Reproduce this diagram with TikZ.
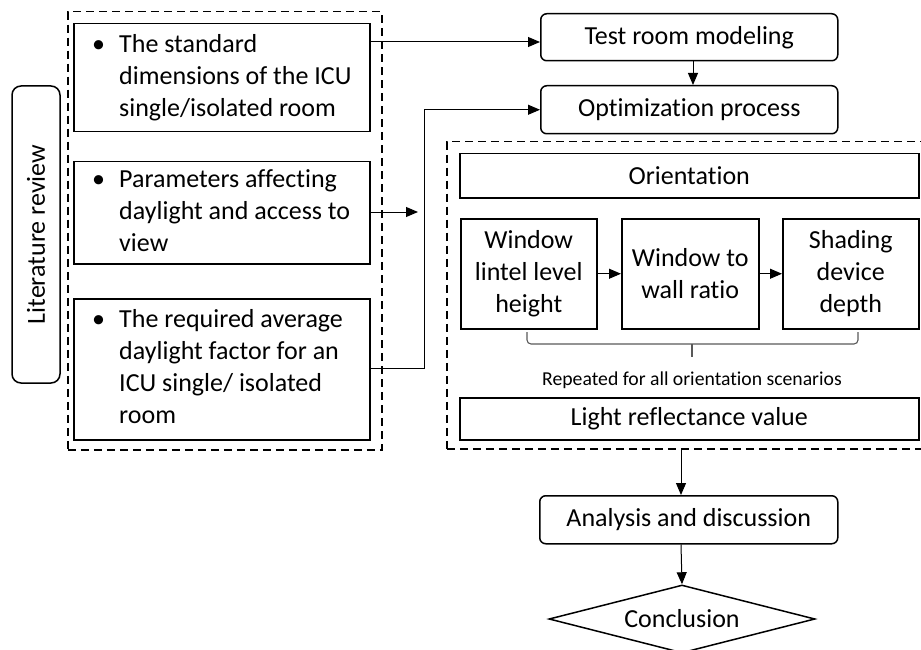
\documentclass[tikz,border=0pt]{standalone}
\usepackage{fontspec}
\setmainfont{Carlito}[Ligatures=NoCommon]
\usetikzlibrary{arrows.meta,shapes.geometric,calc}
\newcommand{\bulitem}[1]{\begin{tabular}{@{}p{27pt}@{}l@{}}#1\end{tabular}}
\begin{document}
\begin{tikzpicture}[x=1pt,y=-1pt,
  every node/.style={font=\fontsize{26}{32}\selectfont, inner sep=0pt},
  solidbox/.style={draw, line width=1.5pt},
  rbox/.style={draw, line width=1.5pt, rounded corners=6pt},
  dashbox/.style={draw, line width=1.5pt, dash pattern=on 8pt off 5pt},
  conn/.style={line width=1pt, -{Triangle[length=12pt,width=10pt]}},
  bullettext/.style={anchor=west},
  bracestyle/.style={line width=1.1pt, draw=black!65}]
\useasboundingbox (0,0) rectangle (921,650);

% left group
\node[dashbox, anchor=north west, minimum width=314pt, minimum height=438pt] (ldb) at (67,11) {};
\node[rbox, rounded corners=9pt, rotate=90, minimum width=297pt, minimum height=48pt] (lit) at (36,234.5) {Literature review};

\node[solidbox, anchor=north west, minimum width=296pt, minimum height=108pt] (b1) at (73,23) {};
\node[bullettext] (t1) at ($(b1.west)+(19pt,0)$)
  {\bulitem{\textbullet & The standard\\ & dimensions of the ICU\\ & single/isolated room}};
\node[solidbox, anchor=north west, minimum width=296pt, minimum height=102pt] (b2) at (73,161) {};
\node[bullettext] (t2) at ($(b2.west)+(19pt,0)$)
  {\bulitem{\textbullet & Parameters affecting\\ & daylight and access to\\ & view}};
\node[solidbox, anchor=north west, minimum width=296pt, minimum height=141pt] (b3) at (73,298) {};
\node[bullettext] (t3) at ($(b3.west)+(19pt,0)$)
  {\bulitem{\textbullet & The required average\\ & daylight factor for an\\ & ICU single/ isolated\\ & room}};

% right flow
\node[rbox, anchor=north west, minimum width=297pt, minimum height=47pt] (tst) at (540,13) {Test room modeling};
\node[rbox, anchor=north west, minimum width=297pt, minimum height=48pt] (opt) at (540,85) {Optimization process};

\node[dashbox, anchor=north west, minimum width=490pt, minimum height=307pt] (rdb) at (446,141) {};
\node[solidbox, anchor=north west, minimum width=459pt, minimum height=44pt] (ori) at (459,153) {Orientation};
\node[solidbox, anchor=north west, minimum width=136pt, minimum height=110pt, align=center] (wl) at (460,218) {Window\\lintel level\\height};
\node[solidbox, anchor=north west, minimum width=137pt, minimum height=110pt, align=center] (ww) at (621,218) {Window to\\wall ratio};
\node[solidbox, anchor=north west, minimum width=136pt, minimum height=110pt, align=center] (sd) at (782,218) {Shading\\device\\depth};
\node[font=\fontsize{19.7}{24}\selectfont] (rep) at (692,380) {Repeated for all orientation scenarios};
\node[solidbox, anchor=north west, minimum width=459pt, minimum height=42pt] (lrv) at (459,397) {Light reflectance value};

\node[rbox, anchor=north west, minimum width=298pt, minimum height=48pt] (ana) at (539,495) {Analysis and discussion};
\node[draw, line width=1.5pt, shape=diamond, aspect=3.9, minimum width=266pt, minimum height=68pt] (conc) at (682,619) {Conclusion};

% brace
\draw[bracestyle, rounded corners=4pt] (527,332) -- (527,344) -- (858,344) -- (858,332);
\draw[bracestyle] (692,344) -- (692,357);

% connectors
\coordinate (ty) at (0,42);
\coordinate (tx) at (693,0);
\coordinate (ax) at (681,0);
\coordinate (b2end) at (418,212);
\coordinate (vx) at (424,368);

\draw[conn] (b1.east |- ty) -- (tst.west |- ty);
\draw[conn] (tst.south -| tx) -- (opt.north -| tx);
\draw[conn] (b2.east |- b2end) -- (b2end);
\draw[conn] (b3.east |- vx) -- (vx) |- (opt.west);
\draw[conn] (wl.east) -- (ww.west);
\draw[conn] (ww.east) -- (sd.west);
\draw[conn] (rdb.south -| ax) -- (ana.north -| ax);
\draw[conn] (ana.south -| ax) -- (conc.north);
\end{tikzpicture}
\end{document}
